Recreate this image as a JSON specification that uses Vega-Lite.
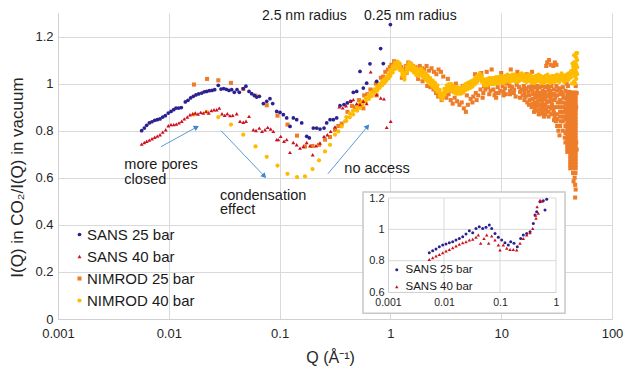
{
"$schema": "https://vega.github.io/schema/vega-lite/v6.json",
"width": 554, "height": 306,
"autosize": {"type": "none"},
"padding": {"left": 58, "top": 13, "right": 13, "bottom": 48},
"background": "white",
"config": {
 "font": "Liberation Sans",
 "view": {"stroke": null},
 "axis": {"labelFont": "Liberation Sans", "titleFont": "Liberation Sans", "titleFontWeight": "normal", "labelColor": "#262626", "titleColor": "#262626", "ticks": false, "gridColor": "#d9d9d9", "gridWidth": 1, "domainColor": "#d0d0d0", "domainWidth": 1},
 "legend": {"labelFont": "Liberation Sans", "labelColor": "#1a1a1a"},
 "text": {"font": "Liberation Sans"}
},
"datasets": {
 "main": [
  {"s":"N25","q":0.01688,"v":0.996},{"s":"N25","q":0.02213,"v":1.02},{"s":"N25","q":0.02798,"v":1.014},{"s":"N25","q":0.0364,"v":1.003},{"s":"N25","q":0.04702,"v":0.977},{"s":"N25","q":0.06062,"v":0.949},{"s":"N25","q":0.0765,"v":0.908},{"s":"N25","q":0.09572,"v":0.864},{"s":"N25","q":0.1178,"v":0.826},{"s":"N25","q":0.1436,"v":0.779},{"s":"N25","q":0.1695,"v":0.733},{"s":"N25","q":0.1982,"v":0.735},{"s":"N25","q":0.2268,"v":0.74},{"s":"N25","q":0.2569,"v":0.762},{"s":"N25","q":0.2851,"v":0.773},{"s":"N25","q":0.3162,"v":0.804},{"s":"N25","q":0.3387,"v":0.82},{"s":"N25","q":0.3635,"v":0.83},
  {"s":"N25","q":0.41,"v":0.88},{"s":"N25","q":0.45,"v":0.905},{"s":"N25","q":0.48,"v":0.9},{"s":"N25","q":0.52,"v":0.93},{"s":"N25","q":0.55,"v":0.915},{"s":"N25","q":0.58,"v":0.95},{"s":"N25","q":0.62,"v":0.955},{"s":"N25","q":0.66,"v":0.975},{"s":"N25","q":0.7,"v":0.97},{"s":"N25","q":0.74,"v":1.0},{"s":"N25","q":0.78,"v":0.995},{"s":"N25","q":0.82,"v":1.025},{"s":"N25","q":0.86,"v":1.03},{"s":"N25","q":0.9,"v":1.05},{"s":"N25","q":0.95,"v":1.06},{"s":"N25","q":0.99,"v":1.07},{"s":"N25","q":0.57,"v":0.895},{"s":"N25","q":0.75,"v":0.95},
  {"s":"N25","q":1.02,"v":1.08},{"s":"N25","q":1.08,"v":1.095},{"s":"N25","q":1.13,"v":1.09},{"s":"N25","q":1.19,"v":1.085},{"s":"N25","q":1.25,"v":1.07},{"s":"N25","q":1.31,"v":1.06},{"s":"N25","q":1.38,"v":1.075},{"s":"N25","q":1.45,"v":1.09},{"s":"N25","q":1.52,"v":1.085},{"s":"N25","q":1.6,"v":1.075},{"s":"N25","q":1.27,"v":1.025},{"s":"N25","q":1.4,"v":1.045},
  {"s":"N25","q":1.68,"v":1.07},{"s":"N25","q":1.75,"v":1.06},{"s":"N25","q":1.84,"v":1.075},{"s":"N25","q":1.93,"v":1.065},{"s":"N25","q":2.02,"v":1.06},{"s":"N25","q":2.12,"v":1.075},{"s":"N25","q":2.23,"v":1.055},{"s":"N25","q":2.35,"v":1.065},{"s":"N25","q":2.47,"v":1.05},{"s":"N25","q":2.6,"v":1.04},{"s":"N25","q":2.72,"v":1.06},{"s":"N25","q":2.86,"v":1.05},{"s":"N25","q":3.0,"v":1.03},{"s":"N25","q":1.78,"v":1.02},{"s":"N25","q":1.95,"v":1.01},{"s":"N25","q":2.15,"v":0.99},{"s":"N25","q":2.3,"v":0.985},{"s":"N25","q":2.45,"v":0.975},{"s":"N25","q":2.58,"v":0.96},{"s":"N25","q":2.7,"v":0.945},{"s":"N25","q":2.9,"v":0.93},{"s":"N25","q":3.1,"v":0.95},
  {"s":"N25","q":3.2,"v":0.94},{"s":"N25","q":3.35,"v":0.955},{"s":"N25","q":3.5,"v":0.93},{"s":"N25","q":3.65,"v":0.915},{"s":"N25","q":3.8,"v":0.94},{"s":"N25","q":4.0,"v":0.925},{"s":"N25","q":4.2,"v":0.91},{"s":"N25","q":4.4,"v":0.92},{"s":"N25","q":4.6,"v":0.895},{"s":"N25","q":4.8,"v":0.88},{"s":"N25","q":5.0,"v":0.91},{"s":"N25","q":5.3,"v":0.935},{"s":"N25","q":5.6,"v":0.945},{"s":"N25","q":5.9,"v":0.96},{"s":"N25","q":6.2,"v":0.95},{"s":"N25","q":6.5,"v":0.975},{"s":"N25","q":6.9,"v":0.96},{"s":"N25","q":7.2,"v":0.975},{"s":"N25","q":7.6,"v":0.985},{"s":"N25","q":8.0,"v":0.97},{"s":"N25","q":3.3,"v":1.02},{"s":"N25","q":3.9,"v":1.0},{"s":"N25","q":4.5,"v":0.99},{"s":"N25","q":5.2,"v":0.985},{"s":"N25","q":5.8,"v":1.04},{"s":"N25","q":6.6,"v":1.045},{"s":"N25","q":7.4,"v":1.05},{"s":"N25","q":8.2,"v":1.06},{"s":"N25","q":4.3,"v":0.96},{"s":"N25","q":4.9,"v":0.95},{"s":"N25","q":3.6,"v":0.97},
  {"s":"N25","q":5.5,"v":0.92},{"s":"N25","q":6.0,"v":0.93},{"s":"N25","q":6.8,"v":0.94},{"s":"N25","q":7.8,"v":0.955},{"s":"N25","q":8.7,"v":0.95},{"s":"N25","q":9.5,"v":0.96},{"s":"N25","q":7.0,"v":0.99},
  {"s":"N25","q":8.5,"v":0.975},{"s":"N25","q":8.9,"v":0.96},{"s":"N25","q":9.3,"v":0.985},{"s":"N25","q":9.8,"v":0.97},{"s":"N25","q":10.3,"v":0.99},{"s":"N25","q":10.8,"v":0.98},{"s":"N25","q":11.3,"v":1.0},{"s":"N25","q":11.9,"v":0.99},{"s":"N25","q":12.5,"v":0.985},{"s":"N25","q":13.1,"v":0.975},{"s":"N25","q":13.8,"v":0.995},{"s":"N25","q":14.5,"v":0.985},{"s":"N25","q":15.2,"v":0.975},{"s":"N25","q":16.0,"v":0.99},{"s":"N25","q":16.8,"v":0.98},{"s":"N25","q":17.6,"v":0.965},{"s":"N25","q":18.5,"v":0.975},{"s":"N25","q":19.4,"v":0.955},{"s":"N25","q":20.4,"v":0.94},{"s":"N25","q":21.4,"v":0.925},{"s":"N25","q":22.4,"v":0.96},{"s":"N25","q":23.5,"v":0.935},{"s":"N25","q":24.6,"v":0.905},{"s":"N25","q":25.8,"v":0.92},
  {"s":"N25","q":9.0,"v":0.94},{"s":"N25","q":11.0,"v":0.955},{"s":"N25","q":13.5,"v":0.945},{"s":"N25","q":15.6,"v":0.95},{"s":"N25","q":18.0,"v":0.93},{"s":"N25","q":20.0,"v":0.905},{"s":"N25","q":21.0,"v":0.885},{"s":"N25","q":22.0,"v":0.91},{"s":"N25","q":23.0,"v":0.88},{"s":"N25","q":24.0,"v":0.89},{"s":"N25","q":25.0,"v":0.87},{"s":"N25","q":10.0,"v":1.045},{"s":"N25","q":12.2,"v":1.06},{"s":"N25","q":14.0,"v":1.05},{"s":"N25","q":17.0,"v":1.04},{"s":"N25","q":19.0,"v":1.05},{"s":"N25","q":26,"v":1.09},{"s":"N25","q":27,"v":1.1},{"s":"N25","q":28,"v":1.08},{"s":"N25","q":25.5,"v":1.075},
  {"s":"N25","q":17.2,"v":0.92},{"s":"N25","q":18.8,"v":0.9},{"s":"N25","q":19.8,"v":0.88},{"s":"N25","q":21.8,"v":0.87},{"s":"N25","q":23.2,"v":0.905},{"s":"N25","q":24.3,"v":0.86},{"s":"N25","q":16.5,"v":0.945},{"s":"N25","q":20.8,"v":0.96},{"s":"N25","q":22.8,"v":0.945},{"s":"N25","q":24.8,"v":0.95},{"s":"N25","q":25.4,"v":0.89},
  {"s":"N25","q":10.5,"v":0.965},{"s":"N25","q":10.5,"v":0.95},{"s":"N25","q":12,"v":0.97},{"s":"N25","q":12,"v":0.955},{"s":"N25","q":13,"v":0.96},{"s":"N25","q":14.8,"v":0.965},{"s":"N25","q":14.8,"v":0.94},{"s":"N25","q":16.2,"v":0.975},{"s":"N25","q":16.2,"v":0.96},{"s":"N25","q":16.2,"v":0.93},{"s":"N25","q":17.8,"v":0.985},{"s":"N25","q":17.8,"v":0.95},{"s":"N25","q":17.8,"v":0.91},{"s":"N25","q":19.2,"v":0.99},{"s":"N25","q":19.2,"v":0.97},{"s":"N25","q":19.2,"v":0.935},{"s":"N25","q":19.2,"v":0.915},{"s":"N25","q":20.2,"v":0.985},{"s":"N25","q":20.2,"v":0.955},{"s":"N25","q":20.2,"v":0.92},{"s":"N25","q":20.2,"v":0.895},{"s":"N25","q":21.2,"v":0.99},{"s":"N25","q":21.2,"v":0.975},{"s":"N25","q":21.2,"v":0.945},{"s":"N25","q":21.2,"v":0.905},{"s":"N25","q":22.2,"v":0.985},{"s":"N25","q":22.2,"v":0.93},{"s":"N25","q":22.2,"v":0.89},{"s":"N25","q":22.2,"v":0.87},{"s":"N25","q":23.6,"v":0.99},{"s":"N25","q":23.6,"v":0.97},{"s":"N25","q":23.6,"v":0.955},{"s":"N25","q":23.6,"v":0.92},{"s":"N25","q":23.6,"v":0.895},{"s":"N25","q":23.6,"v":0.875},{"s":"N25","q":24.9,"v":0.985},{"s":"N25","q":24.9,"v":0.965},{"s":"N25","q":24.9,"v":0.935},{"s":"N25","q":24.9,"v":0.91},{"s":"N25","q":24.9,"v":0.885},{"s":"N25","q":26.8,"v":0.975},{"s":"N25","q":26.8,"v":0.945},{"s":"N25","q":26.8,"v":0.925},{"s":"N25","q":26.8,"v":0.9},{"s":"N25","q":26.8,"v":0.88},{"s":"N25","q":26.8,"v":0.86},{"s":"N25","q":28.4,"v":0.99},{"s":"N25","q":28.4,"v":0.95},{"s":"N25","q":28.4,"v":0.92},{"s":"N25","q":28.4,"v":0.895},{"s":"N25","q":28.4,"v":0.87},{"s":"N25","q":30,"v":0.975},{"s":"N25","q":30,"v":0.955},{"s":"N25","q":30,"v":0.93},{"s":"N25","q":30,"v":0.9},{"s":"N25","q":30,"v":0.875},{"s":"N25","q":30,"v":0.845},{"s":"N25","q":32,"v":0.97},{"s":"N25","q":32,"v":0.95},{"s":"N25","q":32,"v":0.9},{"s":"N25","q":32,"v":0.87},{"s":"N25","q":32,"v":0.85},{"s":"N25","q":34,"v":0.98},{"s":"N25","q":34,"v":0.955},{"s":"N25","q":34,"v":0.93},{"s":"N25","q":34,"v":0.92},{"s":"N25","q":34,"v":0.88},{"s":"N25","q":34,"v":0.86},{"s":"N25","q":34,"v":0.82},{"s":"N25","q":36,"v":0.985},{"s":"N25","q":36,"v":0.955},{"s":"N25","q":36,"v":0.92},{"s":"N25","q":36,"v":0.9},{"s":"N25","q":36,"v":0.86},{"s":"N25","q":36,"v":0.84},{"s":"N25","q":38,"v":0.97},{"s":"N25","q":38,"v":0.94},{"s":"N25","q":38,"v":0.895},{"s":"N25","q":38,"v":0.88},{"s":"N25","q":38,"v":0.85},{"s":"N25","q":38,"v":0.82},{"s":"N25","q":38,"v":0.79},{"s":"N25","q":38,"v":0.75},
  {"s":"N25","q":26.5,"v":0.99},{"s":"N25","q":27.2,"v":0.96},{"s":"N25","q":28.0,"v":0.935},{"s":"N25","q":28.8,"v":0.91},{"s":"N25","q":29.6,"v":0.885},{"s":"N25","q":30.4,"v":0.86},{"s":"N25","q":31.2,"v":0.84},{"s":"N25","q":32.0,"v":0.82},{"s":"N25","q":32.8,"v":0.8},{"s":"N25","q":33.6,"v":0.78},{"s":"N25","q":26.0,"v":0.95},{"s":"N25","q":27.8,"v":0.97},{"s":"N25","q":29.2,"v":0.955},{"s":"N25","q":30.8,"v":0.94},{"s":"N25","q":32.4,"v":0.92},{"s":"N25","q":34.0,"v":0.9},{"s":"N25","q":35.6,"v":0.88},{"s":"N25","q":37.2,"v":0.86},{"s":"N25","q":33.0,"v":0.975},{"s":"N25","q":35.0,"v":0.965},{"s":"N25","q":36.5,"v":0.94},{"s":"N25","q":38.0,"v":0.915},{"s":"N25","q":31.5,"v":0.99},{"s":"N25","q":34.4,"v":0.84},{"s":"N25","q":36.0,"v":0.8},{"s":"N25","q":37.5,"v":0.77},{"s":"N25","q":29.5,"v":1.075},{"s":"N25","q":30.5,"v":1.09},{"s":"N25","q":31.5,"v":1.08},
  {"s":"N25","q":39.5,"v":0.71},{"s":"N25","q":39.5,"v":0.724},{"s":"N25","q":39.5,"v":0.738},{"s":"N25","q":39.5,"v":0.752},{"s":"N25","q":39.5,"v":0.766},{"s":"N25","q":39.5,"v":0.78},{"s":"N25","q":39.5,"v":0.794},{"s":"N25","q":39.5,"v":0.808},{"s":"N25","q":39.5,"v":0.822},{"s":"N25","q":39.5,"v":0.836},{"s":"N25","q":39.5,"v":0.85},{"s":"N25","q":39.5,"v":0.864},{"s":"N25","q":39.5,"v":0.878},{"s":"N25","q":39.5,"v":0.892},{"s":"N25","q":39.5,"v":0.906},{"s":"N25","q":39.5,"v":0.92},{"s":"N25","q":39.5,"v":0.934},{"s":"N25","q":39.5,"v":0.948},{"s":"N25","q":39.5,"v":0.962},
  {"s":"N25","q":42,"v":0.64},{"s":"N25","q":42,"v":0.654},{"s":"N25","q":42,"v":0.668},{"s":"N25","q":42,"v":0.682},{"s":"N25","q":42,"v":0.696},{"s":"N25","q":42,"v":0.71},{"s":"N25","q":42,"v":0.724},{"s":"N25","q":42,"v":0.738},{"s":"N25","q":42,"v":0.752},{"s":"N25","q":42,"v":0.766},{"s":"N25","q":42,"v":0.78},{"s":"N25","q":42,"v":0.794},{"s":"N25","q":42,"v":0.808},{"s":"N25","q":42,"v":0.822},{"s":"N25","q":42,"v":0.836},{"s":"N25","q":42,"v":0.85},{"s":"N25","q":42,"v":0.864},{"s":"N25","q":42,"v":0.878},{"s":"N25","q":42,"v":0.892},{"s":"N25","q":42,"v":0.906},{"s":"N25","q":42,"v":0.92},{"s":"N25","q":42,"v":0.934},{"s":"N25","q":42,"v":0.948},{"s":"N25","q":42,"v":0.962},
  {"s":"N25","q":44.5,"v":0.64},{"s":"N25","q":44.5,"v":0.654},{"s":"N25","q":44.5,"v":0.668},{"s":"N25","q":44.5,"v":0.682},{"s":"N25","q":44.5,"v":0.696},{"s":"N25","q":44.5,"v":0.71},{"s":"N25","q":44.5,"v":0.724},{"s":"N25","q":44.5,"v":0.738},{"s":"N25","q":44.5,"v":0.752},{"s":"N25","q":44.5,"v":0.766},{"s":"N25","q":44.5,"v":0.78},{"s":"N25","q":44.5,"v":0.794},{"s":"N25","q":44.5,"v":0.808},{"s":"N25","q":44.5,"v":0.822},{"s":"N25","q":44.5,"v":0.836},{"s":"N25","q":44.5,"v":0.85},{"s":"N25","q":44.5,"v":0.864},{"s":"N25","q":44.5,"v":0.878},{"s":"N25","q":44.5,"v":0.892},{"s":"N25","q":44.5,"v":0.906},{"s":"N25","q":44.5,"v":0.92},{"s":"N25","q":44.5,"v":0.934},{"s":"N25","q":44.5,"v":0.948},{"s":"N25","q":44.5,"v":0.962},
  {"s":"N25","q":47,"v":0.64},{"s":"N25","q":47,"v":0.654},{"s":"N25","q":47,"v":0.668},{"s":"N25","q":47,"v":0.682},{"s":"N25","q":47,"v":0.696},{"s":"N25","q":47,"v":0.71},{"s":"N25","q":47,"v":0.724},{"s":"N25","q":47,"v":0.738},{"s":"N25","q":47,"v":0.752},{"s":"N25","q":47,"v":0.766},{"s":"N25","q":47,"v":0.78},{"s":"N25","q":47,"v":0.794},{"s":"N25","q":47,"v":0.808},{"s":"N25","q":47,"v":0.822},{"s":"N25","q":47,"v":0.836},{"s":"N25","q":47,"v":0.85},{"s":"N25","q":47,"v":0.864},{"s":"N25","q":47,"v":0.878},{"s":"N25","q":47,"v":0.892},{"s":"N25","q":47,"v":0.906},{"s":"N25","q":47,"v":0.92},{"s":"N25","q":47,"v":0.934},{"s":"N25","q":47,"v":0.948},{"s":"N25","q":47,"v":0.962},
  {"s":"N25","q":39,"v":1.0},{"s":"N25","q":40,"v":0.99},{"s":"N25","q":41,"v":0.965},{"s":"N25","q":47.5,"v":0.9},{"s":"N25","q":48,"v":0.96},{"s":"N25","q":47,"v":0.99},{"s":"N25","q":48,"v":0.72},{"s":"N25","q":47.5,"v":0.75},{"s":"N25","q":46.8,"v":0.62},{"s":"N25","q":44.5,"v":0.62},{"s":"N25","q":46,"v":0.6},{"s":"N25","q":45,"v":0.585},{"s":"N25","q":46.5,"v":0.57},{"s":"N25","q":47,"v":0.55},{"s":"N25","q":46.5,"v":0.516},{"s":"N25","q":41,"v":0.75},{"s":"N25","q":40.5,"v":0.91},{"s":"N25","q":43.5,"v":0.73},
  {"s":"N40","q":0.01688,"v":0.868},{"s":"N40","q":0.02213,"v":0.879},{"s":"N40","q":0.02798,"v":0.858},{"s":"N40","q":0.0364,"v":0.826},{"s":"N40","q":0.04702,"v":0.783},{"s":"N40","q":0.06062,"v":0.733},{"s":"N40","q":0.0765,"v":0.689},{"s":"N40","q":0.09572,"v":0.652},{"s":"N40","q":0.1178,"v":0.617},{"s":"N40","q":0.1436,"v":0.603},{"s":"N40","q":0.1695,"v":0.606},{"s":"N40","q":0.1982,"v":0.637},{"s":"N40","q":0.2268,"v":0.674},{"s":"N40","q":0.2569,"v":0.712},{"s":"N40","q":0.2851,"v":0.74},{"s":"N40","q":0.3162,"v":0.783},{"s":"N40","q":0.3387,"v":0.797},{"s":"N40","q":0.3635,"v":0.818},{"s":"N40","q":0.3892,"v":0.84},
  {"s":"N40","q":0.4,"v":0.842},{"s":"N40","q":0.4,"v":0.858},{"s":"N40","q":0.43,"v":0.857},{"s":"N40","q":0.43,"v":0.873},{"s":"N40","q":0.46,"v":0.869},{"s":"N40","q":0.46,"v":0.885},{"s":"N40","q":0.5,"v":0.885},{"s":"N40","q":0.5,"v":0.901},{"s":"N40","q":0.53,"v":0.897},{"s":"N40","q":0.53,"v":0.913},{"s":"N40","q":0.56,"v":0.909},{"s":"N40","q":0.56,"v":0.925},{"s":"N40","q":0.6,"v":0.922},{"s":"N40","q":0.6,"v":0.938},{"s":"N40","q":0.64,"v":0.935},{"s":"N40","q":0.64,"v":0.951},{"s":"N40","q":0.68,"v":0.947},{"s":"N40","q":0.68,"v":0.963},{"s":"N40","q":0.72,"v":0.96},{"s":"N40","q":0.72,"v":0.976},{"s":"N40","q":0.76,"v":0.97},{"s":"N40","q":0.76,"v":0.986},{"s":"N40","q":0.8,"v":0.982},{"s":"N40","q":0.8,"v":0.998},{"s":"N40","q":0.84,"v":0.992},{"s":"N40","q":0.84,"v":1.008},{"s":"N40","q":0.88,"v":1.002},{"s":"N40","q":0.88,"v":1.018},{"s":"N40","q":0.92,"v":1.012},{"s":"N40","q":0.92,"v":1.028},{"s":"N40","q":0.96,"v":1.022},{"s":"N40","q":0.96,"v":1.038},
  {"s":"N40","q":1,"v":1.032},{"s":"N40","q":1,"v":1.045},{"s":"N40","q":1,"v":1.058},
  {"s":"N40","q":1.05,"v":1.047},{"s":"N40","q":1.05,"v":1.06},{"s":"N40","q":1.05,"v":1.073},
  {"s":"N40","q":1.1,"v":1.062},{"s":"N40","q":1.1,"v":1.075},{"s":"N40","q":1.1,"v":1.088},
  {"s":"N40","q":1.16,"v":1.067},{"s":"N40","q":1.16,"v":1.08},{"s":"N40","q":1.16,"v":1.093},
  {"s":"N40","q":1.22,"v":1.057},{"s":"N40","q":1.22,"v":1.07},{"s":"N40","q":1.22,"v":1.083},
  {"s":"N40","q":1.28,"v":1.032},{"s":"N40","q":1.28,"v":1.045},{"s":"N40","q":1.28,"v":1.058},
  {"s":"N40","q":1.34,"v":1.017},{"s":"N40","q":1.34,"v":1.03},{"s":"N40","q":1.34,"v":1.043},
  {"s":"N40","q":1.41,"v":1.047},{"s":"N40","q":1.41,"v":1.06},{"s":"N40","q":1.41,"v":1.073},
  {"s":"N40","q":1.48,"v":1.062},{"s":"N40","q":1.48,"v":1.075},{"s":"N40","q":1.48,"v":1.088},
  {"s":"N40","q":1.55,"v":1.057},{"s":"N40","q":1.55,"v":1.07},{"s":"N40","q":1.55,"v":1.083},
  {"s":"N40","q":1.63,"v":1.047},{"s":"N40","q":1.63,"v":1.06},{"s":"N40","q":1.63,"v":1.073},
  {"s":"N40","q":1.71,"v":1.037},{"s":"N40","q":1.71,"v":1.05},{"s":"N40","q":1.71,"v":1.063},
  {"s":"N40","q":1.8,"v":1.032},{"s":"N40","q":1.8,"v":1.045},{"s":"N40","q":1.8,"v":1.058},
  {"s":"N40","q":1.89,"v":1.037},{"s":"N40","q":1.89,"v":1.05},{"s":"N40","q":1.89,"v":1.063},
  {"s":"N40","q":1.98,"v":1.027},{"s":"N40","q":1.98,"v":1.04},{"s":"N40","q":1.98,"v":1.053},
  {"s":"N40","q":2.08,"v":1.017},{"s":"N40","q":2.08,"v":1.03},{"s":"N40","q":2.08,"v":1.043},
  {"s":"N40","q":2.18,"v":1.007},{"s":"N40","q":2.18,"v":1.02},{"s":"N40","q":2.18,"v":1.033},
  {"s":"N40","q":2.29,"v":0.997},{"s":"N40","q":2.29,"v":1.01},{"s":"N40","q":2.29,"v":1.023},
  {"s":"N40","q":2.41,"v":0.987},{"s":"N40","q":2.41,"v":1.0},{"s":"N40","q":2.41,"v":1.013},
  {"s":"N40","q":2.53,"v":0.977},{"s":"N40","q":2.53,"v":0.99},{"s":"N40","q":2.53,"v":1.003},
  {"s":"N40","q":2.65,"v":0.967},{"s":"N40","q":2.65,"v":0.98},{"s":"N40","q":2.65,"v":0.993},
  {"s":"N40","q":2.79,"v":0.947},{"s":"N40","q":2.79,"v":0.96},{"s":"N40","q":2.79,"v":0.973},
  {"s":"N40","q":2.93,"v":0.932},{"s":"N40","q":2.93,"v":0.945},{"s":"N40","q":2.93,"v":0.958},
  {"s":"N40","q":3.07,"v":0.952},{"s":"N40","q":3.07,"v":0.965},{"s":"N40","q":3.07,"v":0.978},
  {"s":"N40","q":3.23,"v":0.967},{"s":"N40","q":3.23,"v":0.98},{"s":"N40","q":3.23,"v":0.993},
  {"s":"N40","q":3.39,"v":0.972},{"s":"N40","q":3.39,"v":0.985},{"s":"N40","q":3.39,"v":0.998},
  {"s":"N40","q":3.56,"v":0.972},{"s":"N40","q":3.56,"v":0.985},{"s":"N40","q":3.56,"v":0.998},
  {"s":"N40","q":3.73,"v":0.962},{"s":"N40","q":3.73,"v":0.975},{"s":"N40","q":3.73,"v":0.988},
  {"s":"N40","q":3.92,"v":0.957},{"s":"N40","q":3.92,"v":0.97},{"s":"N40","q":3.92,"v":0.983},
  {"s":"N40","q":4.12,"v":0.957},{"s":"N40","q":4.12,"v":0.97},{"s":"N40","q":4.12,"v":0.983},
  {"s":"N40","q":4.32,"v":0.957},{"s":"N40","q":4.32,"v":0.97},{"s":"N40","q":4.32,"v":0.983},
  {"s":"N40","q":4.54,"v":0.962},{"s":"N40","q":4.54,"v":0.975},{"s":"N40","q":4.54,"v":0.988},
  {"s":"N40","q":4.76,"v":0.972},{"s":"N40","q":4.76,"v":0.985},{"s":"N40","q":4.76,"v":0.998},
  {"s":"N40","q":5,"v":0.977},{"s":"N40","q":5,"v":0.99},{"s":"N40","q":5,"v":1.003},
  {"s":"N40","q":5.25,"v":0.982},{"s":"N40","q":5.25,"v":0.995},{"s":"N40","q":5.25,"v":1.008},
  {"s":"N40","q":5.51,"v":0.987},{"s":"N40","q":5.51,"v":1.0},{"s":"N40","q":5.51,"v":1.013},
  {"s":"N40","q":5.79,"v":0.997},{"s":"N40","q":5.79,"v":1.01},{"s":"N40","q":5.79,"v":1.023},
  {"s":"N40","q":6.08,"v":1.007},{"s":"N40","q":6.08,"v":1.02},{"s":"N40","q":6.08,"v":1.033},
  {"s":"N40","q":6.38,"v":1.017},{"s":"N40","q":6.38,"v":1.03},{"s":"N40","q":6.38,"v":1.043},
  {"s":"N40","q":6.7,"v":1.007},{"s":"N40","q":6.7,"v":1.02},{"s":"N40","q":6.7,"v":1.033},
  {"s":"N40","q":7.04,"v":0.992},{"s":"N40","q":7.04,"v":1.005},{"s":"N40","q":7.04,"v":1.018},
  {"s":"N40","q":7.39,"v":0.992},{"s":"N40","q":7.39,"v":1.005},{"s":"N40","q":7.39,"v":1.018},
  {"s":"N40","q":7.76,"v":0.997},{"s":"N40","q":7.76,"v":1.01},{"s":"N40","q":7.76,"v":1.023},
  {"s":"N40","q":8.14,"v":0.997},{"s":"N40","q":8.14,"v":1.01},{"s":"N40","q":8.14,"v":1.023},
  {"s":"N40","q":8.55,"v":0.997},{"s":"N40","q":8.55,"v":1.01},{"s":"N40","q":8.55,"v":1.023},
  {"s":"N40","q":8.98,"v":1.002},{"s":"N40","q":8.98,"v":1.015},{"s":"N40","q":8.98,"v":1.028},
  {"s":"N40","q":9.43,"v":1.002},{"s":"N40","q":9.43,"v":1.015},{"s":"N40","q":9.43,"v":1.028},
  {"s":"N40","q":9.9,"v":1.007},{"s":"N40","q":9.9,"v":1.02},{"s":"N40","q":9.9,"v":1.033},
  {"s":"N40","q":10.4,"v":1.002},{"s":"N40","q":10.4,"v":1.015},{"s":"N40","q":10.4,"v":1.028},
  {"s":"N40","q":10.9,"v":1.007},{"s":"N40","q":10.9,"v":1.02},{"s":"N40","q":10.9,"v":1.033},
  {"s":"N40","q":11.4,"v":1.012},{"s":"N40","q":11.4,"v":1.025},{"s":"N40","q":11.4,"v":1.038},
  {"s":"N40","q":12,"v":1.007},{"s":"N40","q":12,"v":1.02},{"s":"N40","q":12,"v":1.033},
  {"s":"N40","q":12.6,"v":1.012},{"s":"N40","q":12.6,"v":1.025},{"s":"N40","q":12.6,"v":1.038},
  {"s":"N40","q":13.2,"v":1.012},{"s":"N40","q":13.2,"v":1.025},{"s":"N40","q":13.2,"v":1.038},
  {"s":"N40","q":13.9,"v":1.007},{"s":"N40","q":13.9,"v":1.02},{"s":"N40","q":13.9,"v":1.033},
  {"s":"N40","q":14.6,"v":1.012},{"s":"N40","q":14.6,"v":1.025},{"s":"N40","q":14.6,"v":1.038},
  {"s":"N40","q":15.3,"v":1.017},{"s":"N40","q":15.3,"v":1.03},{"s":"N40","q":15.3,"v":1.043},
  {"s":"N40","q":16.1,"v":1.012},{"s":"N40","q":16.1,"v":1.025},{"s":"N40","q":16.1,"v":1.038},
  {"s":"N40","q":16.9,"v":1.007},{"s":"N40","q":16.9,"v":1.02},{"s":"N40","q":16.9,"v":1.033},
  {"s":"N40","q":17.7,"v":1.012},{"s":"N40","q":17.7,"v":1.025},{"s":"N40","q":17.7,"v":1.038},
  {"s":"N40","q":18.6,"v":1.007},{"s":"N40","q":18.6,"v":1.02},{"s":"N40","q":18.6,"v":1.033},
  {"s":"N40","q":19.6,"v":1.002},{"s":"N40","q":19.6,"v":1.015},{"s":"N40","q":19.6,"v":1.028},
  {"s":"N40","q":20.5,"v":1.007},{"s":"N40","q":20.5,"v":1.02},{"s":"N40","q":20.5,"v":1.033},
  {"s":"N40","q":21.6,"v":1.012},{"s":"N40","q":21.6,"v":1.025},{"s":"N40","q":21.6,"v":1.038},
  {"s":"N40","q":22.6,"v":1.007},{"s":"N40","q":22.6,"v":1.02},{"s":"N40","q":22.6,"v":1.033},
  {"s":"N40","q":23.8,"v":1.002},{"s":"N40","q":23.8,"v":1.015},{"s":"N40","q":23.8,"v":1.028},
  {"s":"N40","q":25,"v":1.007},{"s":"N40","q":25,"v":1.02},{"s":"N40","q":25,"v":1.033},
  {"s":"N40","q":26.2,"v":1.012},{"s":"N40","q":26.2,"v":1.025},{"s":"N40","q":26.2,"v":1.038},
  {"s":"N40","q":27.5,"v":1.002},{"s":"N40","q":27.5,"v":1.015},{"s":"N40","q":27.5,"v":1.028},
  {"s":"N40","q":28.9,"v":1.007},{"s":"N40","q":28.9,"v":1.02},{"s":"N40","q":28.9,"v":1.033},
  {"s":"N40","q":30.4,"v":1.007},{"s":"N40","q":30.4,"v":1.02},{"s":"N40","q":30.4,"v":1.033},
  {"s":"N40","q":31.9,"v":1.012},{"s":"N40","q":31.9,"v":1.025},{"s":"N40","q":31.9,"v":1.038},
  {"s":"N40","q":33.5,"v":1.007},{"s":"N40","q":33.5,"v":1.02},{"s":"N40","q":33.5,"v":1.033},
  {"s":"N40","q":35.1,"v":1.017},{"s":"N40","q":35.1,"v":1.03},{"s":"N40","q":35.1,"v":1.043},
  {"s":"N40","q":36.9,"v":1.007},{"s":"N40","q":36.9,"v":1.02},{"s":"N40","q":36.9,"v":1.033},
  {"s":"N40","q":38.7,"v":1.012},{"s":"N40","q":38.7,"v":1.025},{"s":"N40","q":38.7,"v":1.038},
  {"s":"N40","q":40.7,"v":1.017},{"s":"N40","q":40.7,"v":1.03},{"s":"N40","q":40.7,"v":1.043},
  {"s":"N40","q":42.7,"v":1.027},{"s":"N40","q":42.7,"v":1.04},{"s":"N40","q":42.7,"v":1.053},
  {"s":"N40","q":44.8,"v":1.047},{"s":"N40","q":44.8,"v":1.06},{"s":"N40","q":44.8,"v":1.073},
  {"s":"N40","q":43.5,"v":1.0},{"s":"N40","q":44,"v":1.085},{"s":"N40","q":45.5,"v":1.01},{"s":"N40","q":45.5,"v":1.09},{"s":"N40","q":45.5,"v":1.12},{"s":"N40","q":46.5,"v":1.0},{"s":"N40","q":46.5,"v":1.03},{"s":"N40","q":46.5,"v":1.06},{"s":"N40","q":46.5,"v":1.09},{"s":"N40","q":46.5,"v":1.12},{"s":"N40","q":47.5,"v":1.02},{"s":"N40","q":47.5,"v":1.05},{"s":"N40","q":47.5,"v":1.08},{"s":"N40","q":47.5,"v":1.11},{"s":"N40","q":47.5,"v":1.13},{"s":"N40","q":48.5,"v":1.04},{"s":"N40","q":48.5,"v":1.07},{"s":"N40","q":48.5,"v":1.1},{"s":"N40","q":48.5,"v":1.13},{"s":"N40","q":45.5,"v":1.04},{"s":"N40","q":45.5,"v":1.065},
  {"s":"S25","q":0.00569,"v":0.8},{"s":"S25","q":0.00601,"v":0.811},{"s":"S25","q":0.00631,"v":0.823},{"s":"S25","q":0.00667,"v":0.833},{"s":"S25","q":0.00705,"v":0.838},{"s":"S25","q":0.00746,"v":0.844},{"s":"S25","q":0.00788,"v":0.847},{"s":"S25","q":0.00833,"v":0.85},{"s":"S25","q":0.00881,"v":0.858},{"s":"S25","q":0.0093,"v":0.864},{"s":"S25","q":0.00989,"v":0.875},{"s":"S25","q":0.01047,"v":0.882},{"s":"S25","q":0.01107,"v":0.889},{"s":"S25","q":0.01161,"v":0.896},{"s":"S25","q":0.01228,"v":0.896},{"s":"S25","q":0.01297,"v":0.898},{"s":"S25","q":0.01409,"v":0.922},{"s":"S25","q":0.01489,"v":0.929},{"s":"S25","q":0.01574,"v":0.939},{"s":"S25","q":0.01663,"v":0.946},{"s":"S25","q":0.01758,"v":0.952},{"s":"S25","q":0.0186,"v":0.956},{"s":"S25","q":0.01982,"v":0.96},{"s":"S25","q":0.02091,"v":0.965},{"s":"S25","q":0.02196,"v":0.967},{"s":"S25","q":0.02321,"v":0.97},{"s":"S25","q":0.02455,"v":0.971},{"s":"S25","q":0.02595,"v":0.974},{"s":"S25","q":0.02797,"v":0.993},{"s":"S25","q":0.02958,"v":0.977},{"s":"S25","q":0.03127,"v":0.979},{"s":"S25","q":0.03305,"v":0.976},{"s":"S25","q":0.03494,"v":0.971},{"s":"S25","q":0.03694,"v":0.974},{"s":"S25","q":0.03902,"v":0.963},{"s":"S25","q":0.04127,"v":0.974},{"s":"S25","q":0.04329,"v":0.963},{"s":"S25","q":0.04698,"v":0.979},{"s":"S25","q":0.04966,"v":0.989},{"s":"S25","q":0.05297,"v":0.967},{"s":"S25","q":0.05598,"v":0.957},{"s":"S25","q":0.05916,"v":0.95},{"s":"S25","q":0.06211,"v":0.943},{"s":"S25","q":0.06565,"v":0.946},{"s":"S25","q":0.07134,"v":0.915},{"s":"S25","q":0.07648,"v":0.925},{"s":"S25","q":0.08185,"v":0.936},{"s":"S25","q":0.08666,"v":0.915},{"s":"S25","q":0.09418,"v":0.882},{"s":"S25","q":0.1009,"v":0.878},{"s":"S25","q":0.1081,"v":0.868},{"s":"S25","q":0.1159,"v":0.854},{"s":"S25","q":0.1242,"v":0.818},{"s":"S25","q":0.1331,"v":0.854},{"s":"S25","q":0.1427,"v":0.847},{"s":"S25","q":0.1583,"v":0.833},{"s":"S25","q":0.1757,"v":0.776},{"s":"S25","q":0.1854,"v":0.769},{"s":"S25","q":0.2015,"v":0.811},{"s":"S25","q":0.2161,"v":0.811},{"s":"S25","q":0.2316,"v":0.807},{"s":"S25","q":0.2518,"v":0.811},{"s":"S25","q":0.2662,"v":0.833},{"s":"S25","q":0.2853,"v":0.847},{"s":"S25","q":0.3056,"v":0.847},{"s":"S25","q":0.3274,"v":0.854},{"s":"S25","q":0.3508,"v":0.906},{"s":"S25","q":0.3813,"v":0.911},{"s":"S25","q":0.4085,"v":0.918},{"s":"S25","q":0.438,"v":0.925},{"s":"S25","q":0.4627,"v":0.963},{"s":"S25","q":0.496,"v":0.967},{"s":"S25","q":0.5317,"v":1.052},{"s":"S25","q":0.5698,"v":0.981},{"s":"S25","q":0.6106,"v":1.002},{"s":"S25","q":0.6543,"v":1.084},{"s":"S25","q":0.7516,"v":1.01},{"s":"S25","q":0.8166,"v":1.149},{"s":"S25","q":0.863,"v":1.085},{"s":"S25","q":1.0,"v":1.251},
  {"s":"S40","q":0.00569,"v":0.743},{"s":"S40","q":0.00601,"v":0.75},{"s":"S40","q":0.00632,"v":0.755},{"s":"S40","q":0.00667,"v":0.76},{"s":"S40","q":0.00705,"v":0.766},{"s":"S40","q":0.00746,"v":0.772},{"s":"S40","q":0.00788,"v":0.777},{"s":"S40","q":0.00833,"v":0.783},{"s":"S40","q":0.00881,"v":0.794},{"s":"S40","q":0.00938,"v":0.804},{"s":"S40","q":0.0099,"v":0.821},{"s":"S40","q":0.01047,"v":0.826},{"s":"S40","q":0.01107,"v":0.826},{"s":"S40","q":0.01169,"v":0.828},{"s":"S40","q":0.01236,"v":0.833},{"s":"S40","q":0.01308,"v":0.84},{"s":"S40","q":0.0138,"v":0.85},{"s":"S40","q":0.01469,"v":0.858},{"s":"S40","q":0.01554,"v":0.868},{"s":"S40","q":0.01643,"v":0.872},{"s":"S40","q":0.01735,"v":0.875},{"s":"S40","q":0.01834,"v":0.871},{"s":"S40","q":0.01941,"v":0.878},{"s":"S40","q":0.02049,"v":0.875},{"s":"S40","q":0.02166,"v":0.882},{"s":"S40","q":0.02292,"v":0.875},{"s":"S40","q":0.02419,"v":0.886},{"s":"S40","q":0.02559,"v":0.889},{"s":"S40","q":0.02706,"v":0.889},{"s":"S40","q":0.02857,"v":0.896},{"s":"S40","q":0.03021,"v":0.872},{"s":"S40","q":0.03195,"v":0.865},{"s":"S40","q":0.03373,"v":0.872},{"s":"S40","q":0.03567,"v":0.864},{"s":"S40","q":0.03773,"v":0.865},{"s":"S40","q":0.04101,"v":0.872},{"s":"S40","q":0.04392,"v":0.84},{"s":"S40","q":0.04703,"v":0.836},{"s":"S40","q":0.04975,"v":0.84},{"s":"S40","q":0.05297,"v":0.861},{"s":"S40","q":0.0579,"v":0.804},{"s":"S40","q":0.06124,"v":0.801},{"s":"S40","q":0.06559,"v":0.811},{"s":"S40","q":0.06937,"v":0.797},{"s":"S40","q":0.07384,"v":0.804},{"s":"S40","q":0.07808,"v":0.814},{"s":"S40","q":0.08311,"v":0.807},{"s":"S40","q":0.08775,"v":0.797},{"s":"S40","q":0.09416,"v":0.762},{"s":"S40","q":0.09733,"v":0.762},{"s":"S40","q":0.1023,"v":0.776},{"s":"S40","q":0.1096,"v":0.755},{"s":"S40","q":0.1159,"v":0.762},{"s":"S40","q":0.1241,"v":0.708},{"s":"S40","q":0.1329,"v":0.75},{"s":"S40","q":0.1427,"v":0.74},{"s":"S40","q":0.1528,"v":0.726},{"s":"S40","q":0.1637,"v":0.733},{"s":"S40","q":0.1756,"v":0.75},{"s":"S40","q":0.1881,"v":0.736},{"s":"S40","q":0.1989,"v":0.698},{"s":"S40","q":0.2131,"v":0.736},{"s":"S40","q":0.2316,"v":0.748},{"s":"S40","q":0.2516,"v":0.776},{"s":"S40","q":0.2695,"v":0.783},{"s":"S40","q":0.2892,"v":0.797},{"s":"S40","q":0.3162,"v":0.816},{"s":"S40","q":0.3458,"v":0.901},{"s":"S40","q":0.3711,"v":0.897},{"s":"S40","q":0.3975,"v":0.906},{"s":"S40","q":0.4319,"v":0.925},{"s":"S40","q":0.4627,"v":0.932},{"s":"S40","q":0.4962,"v":0.915},{"s":"S40","q":0.5316,"v":0.911},{"s":"S40","q":0.5693,"v":0.925},{"s":"S40","q":0.6109,"v":0.915},{"s":"S40","q":0.6641,"v":1.05},{"s":"S40","q":0.7521,"v":0.953},{"s":"S40","q":0.8175,"v":0.939},{"s":"S40","q":0.8755,"v":0.935},{"s":"S40","q":0.9261,"v":0.814},{"s":"S40","q":1.006,"v":0.84}
 ],
 "inset": [
  {"s":"S25","q":0.00546,"v":0.85},{"s":"S25","q":0.00628,"v":0.863},{"s":"S25","q":0.0072,"v":0.874},{"s":"S25","q":0.00825,"v":0.889},{"s":"S25","q":0.00948,"v":0.9},{"s":"S25","q":0.01086,"v":0.906},{"s":"S25","q":0.01245,"v":0.914},{"s":"S25","q":0.0143,"v":0.921},{"s":"S25","q":0.01638,"v":0.932},{"s":"S25","q":0.01877,"v":0.942},{"s":"S25","q":0.02158,"v":0.953},{"s":"S25","q":0.02472,"v":0.97},{"s":"S25","q":0.02832,"v":0.991},{"s":"S25","q":0.03254,"v":0.978},{"s":"S25","q":0.03727,"v":1.006},{"s":"S25","q":0.0427,"v":1.017},{"s":"S25","q":0.04909,"v":1.006},{"s":"S25","q":0.05623,"v":1.013},{"s":"S25","q":0.06442,"v":1.027},{"s":"S25","q":0.0711,"v":1.006},{"s":"S25","q":0.08147,"v":0.974},{"s":"S25","q":0.09333,"v":0.949},{"s":"S25","q":0.1072,"v":0.932},{"s":"S25","q":0.1228,"v":0.914},{"s":"S25","q":0.1406,"v":0.9},{"s":"S25","q":0.1553,"v":0.921},{"s":"S25","q":0.1778,"v":0.911},{"s":"S25","q":0.2037,"v":0.889},{"s":"S25","q":0.2344,"v":0.942},{"s":"S25","q":0.2607,"v":0.964},{"s":"S25","q":0.2997,"v":0.974},{"s":"S25","q":0.3434,"v":0.985},{"s":"S25","q":0.3935,"v":1.038},{"s":"S25","q":0.4217,"v":1.091},{"s":"S25","q":0.4519,"v":1.112},{"s":"S25","q":0.5178,"v":1.176},{"s":"S25","q":0.5933,"v":1.183},{"s":"S25","q":0.6823,"v":1.192},{"s":"S25","q":0.6362,"v":1.123},
  {"s":"S40","q":0.00546,"v":0.808},{"s":"S40","q":0.00628,"v":0.818},{"s":"S40","q":0.0072,"v":0.829},{"s":"S40","q":0.00825,"v":0.84},{"s":"S40","q":0.00948,"v":0.85},{"s":"S40","q":0.01086,"v":0.861},{"s":"S40","q":0.01245,"v":0.872},{"s":"S40","q":0.0143,"v":0.882},{"s":"S40","q":0.01638,"v":0.893},{"s":"S40","q":0.01877,"v":0.904},{"s":"S40","q":0.02158,"v":0.914},{"s":"S40","q":0.02472,"v":0.921},{"s":"S40","q":0.02832,"v":0.932},{"s":"S40","q":0.03254,"v":0.936},{"s":"S40","q":0.03727,"v":0.949},{"s":"S40","q":0.04097,"v":0.964},{"s":"S40","q":0.0452,"v":0.911},{"s":"S40","q":0.05179,"v":0.942},{"s":"S40","q":0.05788,"v":0.964},{"s":"S40","q":0.06281,"v":0.911},{"s":"S40","q":0.0711,"v":0.957},{"s":"S40","q":0.08147,"v":0.932},{"s":"S40","q":0.09333,"v":0.9},{"s":"S40","q":0.1,"v":0.868},{"s":"S40","q":0.1146,"v":0.9},{"s":"S40","q":0.1318,"v":0.879},{"s":"S40","q":0.151,"v":0.872},{"s":"S40","q":0.1728,"v":0.872},{"s":"S40","q":0.1986,"v":0.868},{"s":"S40","q":0.2275,"v":0.911},{"s":"S40","q":0.2607,"v":0.942},{"s":"S40","q":0.2997,"v":0.964},{"s":"S40","q":0.3434,"v":0.978},{"s":"S40","q":0.3837,"v":1.006},{"s":"S40","q":0.43,"v":1.09},{"s":"S40","q":0.4395,"v":1.07},{"s":"S40","q":0.46,"v":1.144},{"s":"S40","q":0.483,"v":1.102},{"s":"S40","q":0.52,"v":1.185},{"s":"S40","q":0.56,"v":1.18}
 ],
 "arrows": [
  {"id":1,"q":0.0085,"v":0.732,"q2":0.0178,"v2":0.815},
  {"id":2,"q":0.0296,"v":0.8,"q2":0.0728,"v2":0.607},
  {"id":3,"q":0.273,"v":0.617,"q2":0.622,"v2":0.818}
 ],
 "notes": [
  {"t":"2.5 nm radius","q":0.0694,"v":1.289,"k":"h"},
  {"t":"0.25 nm radius","q":0.578,"v":1.289,"k":"h"},
  {"t":"more pores","q":0.00397,"v":0.655,"k":"n"},
  {"t":"closed","q":0.00397,"v":0.591,"k":"n"},
  {"t":"condensation","q":0.029,"v":0.524,"k":"n"},
  {"t":"effect","q":0.029,"v":0.461,"k":"n"},
  {"t":"no access","q":0.384,"v":0.638,"k":"n"}
 ],
 "ibox": [{"q":0.000358,"q2":1.45,"v":0.465,"v2":1.238}],
 "igrid": [
  {"q":0.01,"q2":0.01,"v":0.6,"v2":1.2},{"q":0.1,"q2":0.1,"v":0.6,"v2":1.2},{"q":1,"q2":1,"v":0.6,"v2":1.2},
  {"q":0.001,"q2":1,"v":0.8,"v2":0.8},{"q":0.001,"q2":1,"v":1,"v2":1},{"q":0.001,"q2":1,"v":1.2,"v2":1.2}
 ]
},
"layer": [
 {"layer": [
  {"data": {"name": "main"},
   "mark": {"type": "point", "filled": true, "opacity": 1, "strokeWidth": 0},
   "encoding": {
    "x": {"field": "q", "type": "quantitative", "scale": {"type": "log", "domain": [0.001, 100], "nice": false},
          "axis": {"orient": "bottom", "values": [0.001, 0.01, 0.1, 1, 10, 100], "format": "~g", "title": "Q (Å⁻¹)", "grid": true, "labelFontSize": 13, "labelPadding": 8, "labelFlush": false, "titleFontSize": 16, "titleX": 272, "titleY": 38, "titleBaseline": "middle"}},
    "y": {"field": "v", "type": "quantitative", "scale": {"domain": [0, 1.3], "nice": false, "zero": false},
          "axis": {"orient": "left", "values": [0, 0.2, 0.4, 0.6, 0.8, 1, 1.2], "format": "~g", "title": "I(Q) in CO₂/I(Q) in vacuum", "grid": true, "labelFontSize": 13, "labelPadding": 5, "titleFontSize": 17, "titleX": -41, "titleY": 164, "titleBaseline": "middle", "titleAlign": "center", "titleAngle": 270}},
    "color": {"field": "s", "type": "nominal", "scale": {"domain": ["S25", "S40", "N25", "N40"], "range": ["#2b2190", "#cc1020", "#ee7d2a", "#ffbb00"]},
          "legend": {"title": null, "orient": "none", "legendX": 14, "legendY": 214, "labelFontSize": 15, "symbolSize": 18, "rowPadding": 6, "padding": 0, "labelOffset": 0,
                     "labelExpr": "{'S25':'SANS 25 bar','S40':'SANS 40 bar','N25':'NIMROD 25 bar','N40':'NIMROD 40 bar'}[datum.label]"}},
    "shape": {"field": "s", "type": "nominal", "scale": {"domain": ["S25", "S40", "N25", "N40"], "range": ["circle", "triangle-up", "square", "circle"]}},
    "size": {"field": "s", "type": "nominal", "scale": {"domain": ["S25", "S40", "N25", "N40"], "range": [14, 18, 7, 14]}, "legend": null}
   }},
  {"data": {"name": "arrows"},
   "mark": {"type": "rule", "color": "#5b9bd5", "strokeWidth": 1},
   "encoding": {
    "x": {"field": "q", "type": "quantitative", "scale": {"type": "log", "domain": [0.001, 100], "nice": false}},
    "y": {"field": "v", "type": "quantitative", "scale": {"domain": [0, 1.3], "nice": false, "zero": false}},
    "x2": {"field": "q2"}, "y2": {"field": "v2"}
   }},
  {"data": {"name": "arrows"}, "transform": [{"filter": "datum.id == 1"}],
   "mark": {"type": "point", "shape": "triangle-up", "filled": true, "color": "#3f86cf", "size": 36, "angle": 61, "opacity": 1, "strokeWidth": 0},
   "encoding": {
    "x": {"field": "q2", "type": "quantitative", "scale": {"type": "log", "domain": [0.001, 100], "nice": false}},
    "y": {"field": "v2", "type": "quantitative", "scale": {"domain": [0, 1.3], "nice": false, "zero": false}}
   }},
  {"data": {"name": "arrows"}, "transform": [{"filter": "datum.id == 2"}],
   "mark": {"type": "point", "shape": "triangle-up", "filled": true, "color": "#3f86cf", "size": 36, "angle": 136, "opacity": 1, "strokeWidth": 0},
   "encoding": {
    "x": {"field": "q2", "type": "quantitative", "scale": {"type": "log", "domain": [0.001, 100], "nice": false}},
    "y": {"field": "v2", "type": "quantitative", "scale": {"domain": [0, 1.3], "nice": false, "zero": false}}
   }},
  {"data": {"name": "arrows"}, "transform": [{"filter": "datum.id == 3"}],
   "mark": {"type": "point", "shape": "triangle-up", "filled": true, "color": "#3f86cf", "size": 36, "angle": 40, "opacity": 1, "strokeWidth": 0},
   "encoding": {
    "x": {"field": "q2", "type": "quantitative", "scale": {"type": "log", "domain": [0.001, 100], "nice": false}},
    "y": {"field": "v2", "type": "quantitative", "scale": {"domain": [0, 1.3], "nice": false, "zero": false}}
   }},
  {"data": {"name": "notes"}, "transform": [{"filter": "datum.k == 'h'"}],
   "mark": {"type": "text", "align": "left", "baseline": "middle", "fontSize": 14, "color": "#1a1a1a"},
   "encoding": {
    "x": {"field": "q", "type": "quantitative", "scale": {"type": "log", "domain": [0.001, 100], "nice": false}},
    "y": {"field": "v", "type": "quantitative", "scale": {"domain": [0, 1.3], "nice": false, "zero": false}},
    "text": {"field": "t"}
   }},
  {"data": {"name": "notes"}, "transform": [{"filter": "datum.k == 'n'"}],
   "mark": {"type": "text", "align": "left", "baseline": "middle", "fontSize": 14.5, "color": "#1a1a1a"},
   "encoding": {
    "x": {"field": "q", "type": "quantitative", "scale": {"type": "log", "domain": [0.001, 100], "nice": false}},
    "y": {"field": "v", "type": "quantitative", "scale": {"domain": [0, 1.3], "nice": false, "zero": false}},
    "text": {"field": "t"}
   }}
 ]},
 {"layer": [
  {"data": {"name": "ibox"},
   "mark": {"type": "rect", "fill": "white", "stroke": "#c8c8c8", "strokeWidth": 1.5},
   "encoding": {
    "x": {"field": "q", "type": "quantitative", "scale": {"type": "log", "domain": [0.001, 1], "range": [330, 498], "nice": false}},
    "x2": {"field": "q2"},
    "y": {"field": "v", "type": "quantitative", "scale": {"domain": [0.6, 1.2], "range": [279, 185], "nice": false, "zero": false}},
    "y2": {"field": "v2"}
   }},
  {"data": {"name": "igrid"},
   "mark": {"type": "rule", "color": "#d9d9d9", "strokeWidth": 1},
   "encoding": {
    "x": {"field": "q", "type": "quantitative", "scale": {"type": "log", "domain": [0.001, 1], "range": [330, 498], "nice": false}},
    "x2": {"field": "q2"},
    "y": {"field": "v", "type": "quantitative", "scale": {"domain": [0.6, 1.2], "range": [279, 185], "nice": false, "zero": false}},
    "y2": {"field": "v2"}
   }},
  {"data": {"name": "inset"},
   "mark": {"type": "point", "filled": true, "opacity": 1, "strokeWidth": 0},
   "encoding": {
    "x": {"field": "q", "type": "quantitative", "scale": {"type": "log", "domain": [0.001, 1], "range": [330, 498], "nice": false},
          "axis": {"orient": "bottom", "offset": -27, "values": [0.001, 0.01, 0.1, 1], "format": "~g", "title": null, "grid": false, "labelFontSize": 10.5, "labelPadding": 5, "labelFlush": false, "zindex": 1}},
    "y": {"field": "v", "type": "quantitative", "scale": {"domain": [0.6, 1.2], "range": [279, 185], "nice": false, "zero": false},
          "axis": {"orient": "left", "offset": -330, "values": [0.6, 0.8, 1, 1.2], "format": "~g", "title": null, "grid": false, "labelFontSize": 11, "labelPadding": 4, "zindex": 1}},
    "color": {"field": "s", "type": "nominal", "scale": {"domain": ["S25", "S40"], "range": ["#2b2190", "#cc1020"]},
          "legend": {"title": null, "orient": "none", "legendX": 333, "legendY": 251, "labelFontSize": 11.5, "symbolSize": 10, "rowPadding": 4, "padding": 0, "labelOffset": 3,
                     "labelExpr": "{'S25':'SANS 25 bar','S40':'SANS 40 bar'}[datum.label]"}},
    "shape": {"field": "s", "type": "nominal", "scale": {"domain": ["S25", "S40"], "range": ["circle", "triangle-up"]}},
    "size": {"field": "s", "type": "nominal", "scale": {"domain": ["S25", "S40"], "range": [9, 12]}, "legend": null}
   }}
 ]}
],
"resolve": {"scale": {"x": "independent", "y": "independent", "color": "independent", "shape": "independent", "size": "independent"}, "axis": {"x": "independent", "y": "independent"}, "legend": {"color": "independent", "shape": "independent", "size": "independent"}}
}
